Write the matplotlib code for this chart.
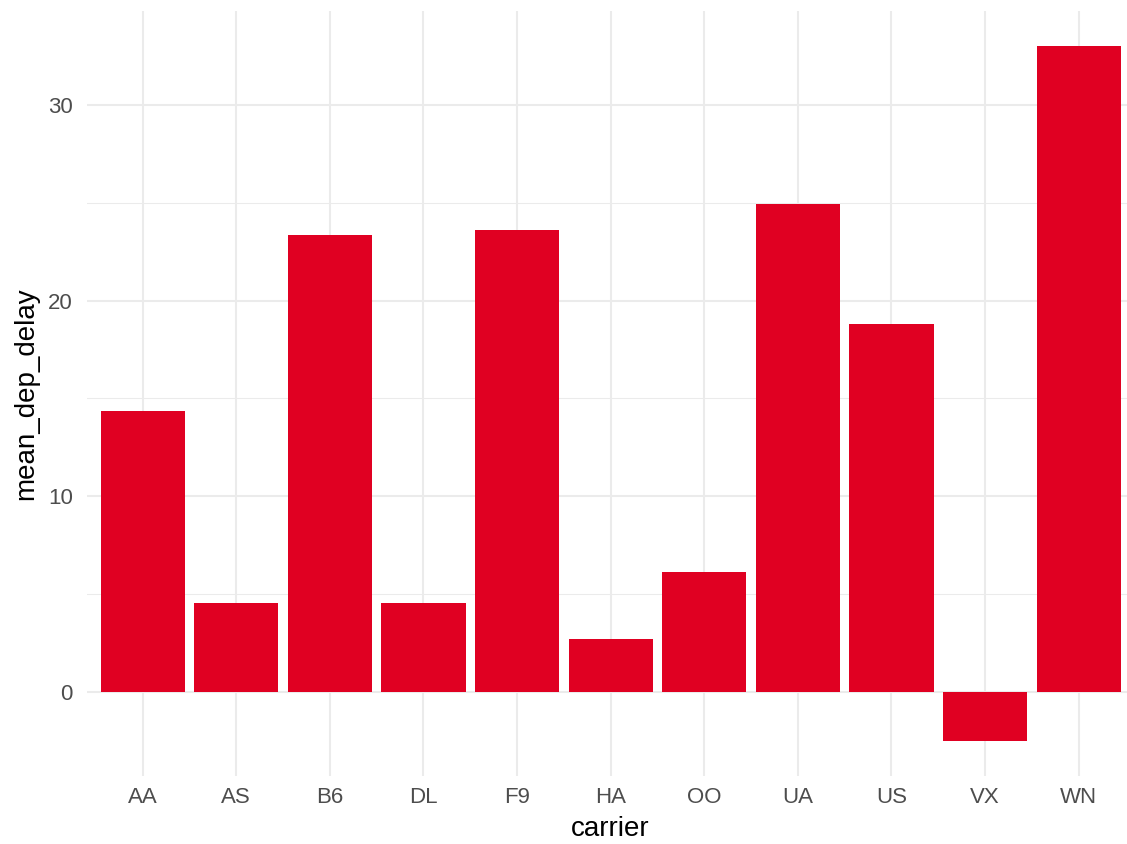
import numpy as np
import matplotlib
matplotlib.use("Agg")
import matplotlib.pyplot as plt
from matplotlib.ticker import MultipleLocator

carriers = ["AA", "AS", "B6", "DL", "F9", "HA", "OO", "UA", "US", "VX", "WN"]
mean_dep_delay = [14.34, 4.53, 23.38, 4.53, 23.63, 2.69, 6.11, 24.96, 18.78, -2.50, 33.03]

plt.rcParams['font.family'] = ['Liberation Sans', 'DejaVu Sans']

fig = plt.figure(figsize=(11.27, 8.44), dpi=100)
unit = 93.6 / 1127
ax = fig.add_axes([86.5 / 1127, 68.5 / 844, 11.2 * unit, (775.5 - 11) / 844])

x = np.arange(len(carriers))
ax.bar(x, mean_dep_delay, width=0.9, color="#E00022", zorder=2)

lo, hi = min(mean_dep_delay + [0]), max(mean_dep_delay)
pad = (hi - lo) * 0.05
ax.set_ylim(lo - pad, hi + pad)
ax.set_xlim(-0.6, len(carriers) - 0.4)

ax.set_xticks(x)
ax.set_xticklabels(carriers)
ax.yaxis.set_major_locator(MultipleLocator(10))
ax.yaxis.set_minor_locator(MultipleLocator(5))

ax.grid(which="major", color="#EBEBEB", linewidth=1.5, zorder=0)
ax.grid(which="minor", axis="y", color="#EBEBEB", linewidth=0.75, zorder=0)
ax.set_axisbelow(True)
for s in ax.spines.values():
    s.set_visible(False)

ax.tick_params(axis="both", which="both", length=0, labelsize=16, labelcolor="#4D4D4D")
ax.tick_params(axis="y", pad=9.9)
ax.tick_params(axis="x", pad=8)

ax.set_xlabel("carrier", fontsize=20, color="black", labelpad=6)
ax.set_ylabel("mean_dep_delay", fontsize=20, color="black", labelpad=6)

fig.savefig("out.png", dpi=100)
